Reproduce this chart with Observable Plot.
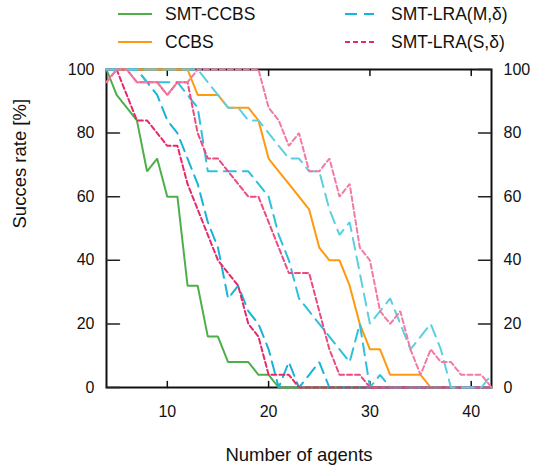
<!DOCTYPE html>
<html>
<head>
<meta charset="utf-8">
<script src="https://cdn.jsdelivr.net/npm/d3@7"></script>
<script src="https://cdn.jsdelivr.net/npm/@observablehq/plot@0.6"></script>
<style>
  body { margin: 0; background: #fff; font-family: "Liberation Sans", Arial, Helvetica, sans-serif; }
  #wrap { width: 534px; }
  #legend { position: relative; height: 56px; width: 534px; }
  .item { position: absolute; display: flex; align-items: center; font-size: 17.5px; color: #111; height: 20px; }
  .item svg { margin-right: 13px; }
</style>
</head>
<body>
<div id="wrap">
  <div id="legend"></div>
  <div id="chart"></div>
</div>
<script>
// ---- data ----
const agents = [4,5,6,7,8,9,10,11,12,13,14,15,16,17,18,19,20,21,22,23,24,25,26,27,28,29,30,31,32,33,34,35,36,37,38,39,40,41,42];

const smtCcbs = [100,92,88,84,68,72,60,60,32,32,16,16,8,8,8,4,4,0,0,0,0,0,0,0,0,0,0,0,0,0,0,0,0,0,0,0,0,0,0];
const ccbs    = [100,100,100,100,100,100,100,100,100,92,92,92,88,88,88,84,72,68,64,60,56,44,40,40,32,20,12,12,4,4,4,4,0,0,0,0,0,0,0];
const lraM    = [100,100,100,100,96,92,84,80,72,64,52,44,28,32,24,20,12,0,8,0,4,8,0,0,0,0,0,0,0,0,0,0,0,0,0,0,0,0,0];
const lraS    = [96,100,92,84,84,80,76,76,64,56,48,40,36,32,20,16,4,4,4,0,0,0,0,0,0,0,0,0,0,0,0,0,0,0,0,0,0,0,0];
const lraM2   = [100,100,100,100,96,96,96,96,92,88,68,68,68,68,68,64,60,48,40,28,24,20,16,12,8,20,0,4,0,0,0,0,0,0,0,0,0,0,0];
const lraS2   = [100,100,100,96,96,96,92,96,96,80,72,72,68,64,60,60,52,44,36,36,36,24,12,4,4,4,0,0,0,0,0,0,0,0,0,0,0,0,0];
const lraM3   = [100,100,100,100,100,100,100,100,100,100,96,92,88,88,84,84,80,76,72,72,68,68,56,48,52,36,20,24,28,20,12,16,20,12,0,0,0,0,4];
const lraS3   = [96,100,100,96,96,96,92,96,96,100,100,100,100,100,100,100,88,84,76,80,68,68,72,60,64,44,40,24,20,24,12,4,12,8,8,4,4,4,0];

const xTicks = [10,20,30,40];
const yTicks = [0,20,40,60,80,100];

const legendNames = ["SMT-CCBS","CCBS","SMT-LRA(M,\u03b4)","SMT-LRA(S,\u03b4)"];

// ---- styles ----
const series = [
  {name: legendNames[0], values: smtCcbs, color: "#4daf4a", dash: null},
  {name: legendNames[1], values: ccbs,    color: "#ff9a10", dash: null},
  {name: legendNames[2], values: lraM,    color: "#17b4d6", dash: "12,7"},
  {name: legendNames[3], values: lraS,    color: "#e6286c", dash: "5,3"},
  {name: "M2", values: lraM2, color: "#2ec0dc", dash: "12,7"},
  {name: "S2", values: lraS2, color: "#ec4a82", dash: "5,3"},
  {name: "M3", values: lraM3, color: "#5ccfe2", dash: "12,7"},
  {name: "S3", values: lraS3, color: "#f27aa5", dash: "5,3"}
];

// ---- legend (HTML) ----
const legendPos = [
  {left: 118, top: 4}, {left: 118, top: 32}, {left: 345, top: 4}, {left: 345, top: 32}
];
const legend = document.getElementById("legend");
series.slice(0, 4).forEach((s, i) => {
  const div = document.createElement("div");
  div.className = "item";
  div.style.left = legendPos[i].left + "px";
  div.style.top = legendPos[i].top + "px";
  const w = i < 2 ? 34 : 29;
  div.innerHTML = `<svg width="${w}" height="10"><line x1="0" y1="5" x2="${w}" y2="5" stroke="${s.color}" stroke-width="2.2" ${s.dash ? `stroke-dasharray="${s.dash}"` : ""}/></svg><span>${s.name}</span>`;
  if (i >= 2) div.querySelector("svg").style.marginRight = "17px";
  legend.appendChild(div);
});

// ---- chart ----
const tickShape = { draw(context, l) { context.moveTo(0, 0); context.lineTo(0, -l); } };

const lineMarks = series.map(s =>
  Plot.line(agents, {
    x: d => d,
    y: (d, i) => s.values[i],
    stroke: s.color,
    strokeWidth: 2,
    strokeDasharray: s.dash ?? undefined,
    strokeLinejoin: "miter"
  })
);

const chart = Plot.plot({
  width: 534,
  height: 411,
  marginTop: 13,
  marginBottom: 80,
  marginLeft: 106,
  marginRight: 43,
  style: { fontFamily: '"Liberation Sans", Arial, Helvetica, sans-serif', fontSize: "16px", color: "#111", background: "white" },
  x: { domain: [4, 42] },
  y: { domain: [0, 100] },
  marks: [
    Plot.frame({ stroke: "#111", strokeWidth: 2 }),
    Plot.vector(xTicks, { x: d => d, frameAnchor: "bottom", length: 6, anchor: "start", rotate: 0, shape: tickShape, stroke: "#111", strokeWidth: 1.5 }),
    Plot.vector(xTicks, { x: d => d, frameAnchor: "top", length: 6, anchor: "start", rotate: 180, shape: tickShape, stroke: "#111", strokeWidth: 1.5 }),
    Plot.vector(yTicks, { y: d => d, frameAnchor: "left", length: 13, anchor: "start", rotate: 90, shape: tickShape, stroke: "#222", strokeWidth: 1.5 }),
    Plot.vector(yTicks, { y: d => d, frameAnchor: "right", length: 13, anchor: "start", rotate: -90, shape: tickShape, stroke: "#222", strokeWidth: 1.5 }),
    Plot.axisX({ anchor: "bottom", ticks: xTicks, tickSize: 0, tickPadding: 18, label: null, fontSize: 16 }),
    Plot.axisY({ anchor: "left", ticks: yTicks, tickSize: 0, tickPadding: 12, label: null, fontSize: 16 }),
    Plot.axisY({ anchor: "right", ticks: yTicks, tickSize: 0, tickPadding: 12, label: null, fontSize: 16 }),
    Plot.text(["Number of agents"], { text: d => d, frameAnchor: "bottom", dy: 73, fontSize: 18.5 }),
    Plot.text(["Succes rate [%]"], { text: d => d, frameAnchor: "left", dx: -86, rotate: -90, fontSize: 18.5 }),
    ...lineMarks
  ]
});
document.getElementById("chart").appendChild(chart);
</script>
</body>
</html>
